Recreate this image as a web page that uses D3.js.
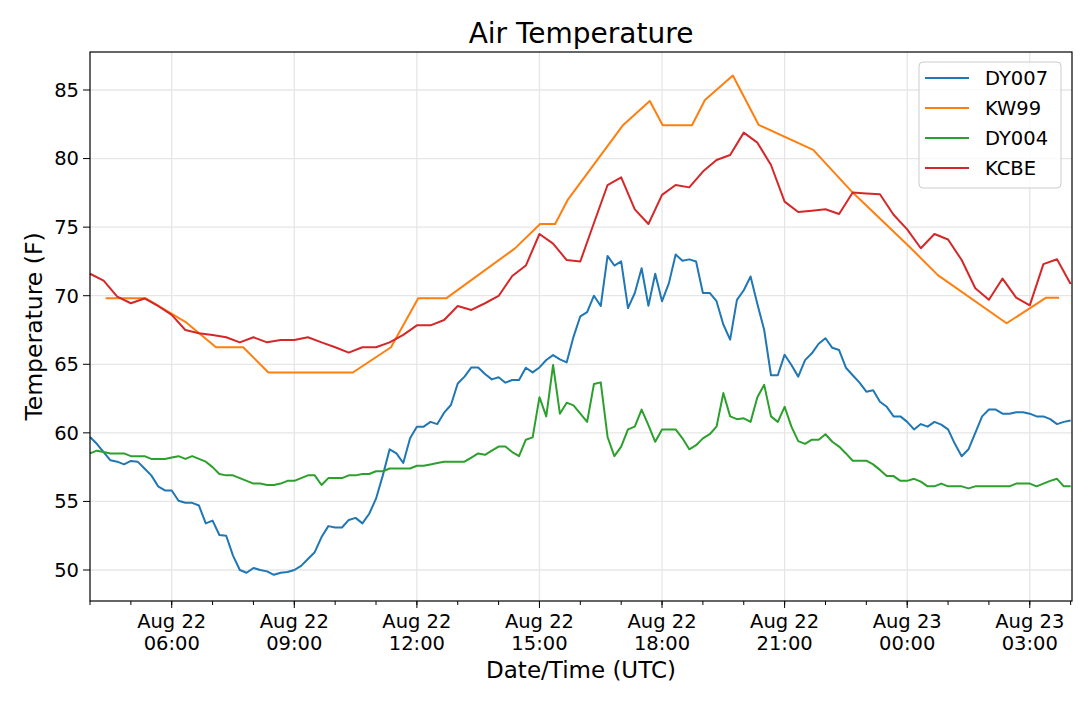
<!DOCTYPE html>
<html>
<head>
<meta charset="utf-8">
<script src="https://cdn.jsdelivr.net/npm/d3@7"></script>
<style>
  body { margin: 0; background: #fff; }
  svg { font-family: "DejaVu Sans", sans-serif; }
</style>
</head>
<body>
<div id="chart"></div>
<script>
// data: DY007 and DY004 every 10 min, KCBE every 20 min, KW99 at its own report times
const startTime = "2019-08-22T04:00:00Z";
const endTime = "2019-08-23T04:02:00Z";

const dy007 = [
  59.7,59.2,58.6,58.0,57.9,57.7,57.95,57.9,57.4,56.9,
  56.1,55.8,55.8,55.05,54.9,54.9,54.7,53.4,53.6,52.55,
  52.5,51.05,50.0,49.8,50.15,50.0,49.9,49.65,49.8,49.85,
  50.0,50.3,50.8,51.3,52.4,53.2,53.1,53.1,53.65,53.8,
  53.4,54.1,55.2,56.9,58.8,58.5,57.8,59.6,
  60.45,60.45,60.8,60.64,61.47,62.03,63.6,64.1,64.77,64.77,
  64.29,63.9,64.05,63.66,63.85,63.85,64.75,64.41,64.77,65.31,
  65.67,65.36,65.14,67.0,68.5,68.8,70.0,69.25,72.9,72.2,
  72.5,69.1,70.2,72.0,69.27,71.6,69.6,70.9,73.0,72.55,
  72.65,72.5,70.2,70.2,69.6,67.9,66.8,
  69.7,70.4,71.4,69.4,67.5,64.2,64.2,65.7,64.95,64.1,
  65.3,65.8,66.5,66.9,66.2,66.04,64.75,64.2,63.66,63.0,
  63.1,62.27,61.9,61.2,61.2,60.8,60.25,60.64,60.45,60.8,
  60.6,60.25,59.2,58.3,58.8,60.0,61.2,61.7,61.7,61.4,
  61.4,61.5,61.5,61.4,61.2,61.2,61.0,60.64,60.8,60.9
];

const dy004 = [
  58.5,58.7,58.6,58.5,58.5,58.5,58.3,58.3,58.3,58.1,
  58.1,58.1,58.2,58.3,58.1,58.3,58.1,57.9,57.5,57.0,
  56.9,56.9,56.7,56.5,56.3,56.3,56.2,56.2,56.3,56.5,
  56.5,56.7,56.9,56.9,56.2,56.7,56.7,56.7,56.9,56.9,
  57.0,57.0,57.2,57.2,57.4,57.4,57.4,57.4,
  57.6,57.6,57.7,57.8,57.9,57.9,57.9,57.9,58.2,58.5,
  58.4,58.7,59.0,59.0,58.6,58.3,
  59.5,59.67,62.6,61.2,64.95,61.4,62.2,62.0,61.4,60.8,
  63.56,63.68,59.7,58.3,59.0,60.25,60.45,61.7,60.57,59.35,
  60.25,60.25,60.25,59.6,58.8,59.1,59.6,59.9,60.45,62.9,
  61.2,61.0,
  61.06,60.8,62.6,63.5,61.2,60.8,61.9,60.45,59.4,59.2,
  59.5,59.5,59.9,59.35,59.0,58.5,57.97,57.97,57.97,57.7,
  57.3,56.85,56.85,56.5,56.5,56.65,56.44,56.1,56.1,56.3,
  56.1,56.1,56.1,55.95,56.1,56.1,56.1,56.1,56.1,56.1,
  56.3,56.3,56.3,56.1,56.3,56.5,56.65,56.1,56.1
];

const kcbe = [
  71.6,71.1,69.93,69.45,69.8,69.25,68.6,67.5,67.26,67.14,
  66.97,66.6,66.97,66.6,66.77,66.77,66.97,66.6,66.24,65.85,
  66.24,66.24,66.6,67.14,67.84,67.84,68.23,69.25,68.96,69.45,
  69.98,71.44,72.2,74.5,73.8,72.6,72.5,75.3,78.07,78.63,
  76.3,75.23,77.35,78.07,77.9,79.05,79.9,80.26,81.89,81.16,
  79.53,76.86,76.1,76.2,76.3,75.96,77.52,77.45,77.4,75.9,
  74.84,73.46,74.5,74.1,72.6,70.54,69.7,71.25,69.86,69.3,
  72.3,72.66,70.86
];

const kw99Times = [
  "2019-08-22T04:23","2019-08-22T05:22","2019-08-22T06:20","2019-08-22T07:05",
  "2019-08-22T07:45","2019-08-22T08:22","2019-08-22T10:26","2019-08-22T11:22",
  "2019-08-22T12:02","2019-08-22T12:43","2019-08-22T14:24","2019-08-22T15:01",
  "2019-08-22T15:23","2019-08-22T15:42","2019-08-22T17:03","2019-08-22T17:42",
  "2019-08-22T18:01","2019-08-22T18:44","2019-08-22T19:03","2019-08-22T19:44",
  "2019-08-22T20:22","2019-08-22T21:42","2019-08-22T22:40","2019-08-23T00:04",
  "2019-08-23T00:45","2019-08-23T02:26","2019-08-23T03:24","2019-08-23T03:43"
];
const kw99 = [
  69.81,69.81,68.1,66.24,66.24,64.4,64.4,66.24,69.81,69.81,
  73.45,75.23,75.23,77.03,82.45,84.2,82.43,82.43,84.27,86.05,
  82.45,80.63,77.52,73.53,71.5,67.99,69.86,69.86
];

const seriesNames = ["DY007", "KW99", "DY004", "KCBE"];
const seriesColors = ["#1f77b4", "#ff7f0e", "#2ca02c", "#d62728"];
const yTicks = [50, 55, 60, 65, 70, 75, 80, 85];

const width = 1080, height = 703;
const margin = { top: 52, right: 8, bottom: 102, left: 90 };

const t0 = new Date(startTime);
const every = (vals, mins) => vals.map((v, i) => ({ t: new Date(t0.getTime() + i * mins * 60000), v }));
const series = [
  every(dy007, 10),
  kw99.map((v, i) => ({ t: new Date(kw99Times[i] + ":00Z"), v })),
  every(dy004, 10),
  every(kcbe, 20)
];

const svg = d3.select("#chart").append("svg")
  .attr("width", width).attr("height", height);

const x = d3.scaleUtc()
  .domain([t0, new Date(endTime)])
  .range([margin.left, width - margin.right]);
const y = d3.scaleLinear()
  .domain([47.74, 87.77])
  .range([height - margin.bottom, margin.top]);

const majorTicks = d3.utcHour.every(3).range(new Date("2019-08-22T06:00:00Z"), new Date(endTime));
const minorTicks = d3.utcHour.every(1).range(t0, new Date(endTime));

// grid
svg.append("g").selectAll("line").data(majorTicks).join("line")
  .attr("x1", d => x(d)).attr("x2", d => x(d))
  .attr("y1", margin.top).attr("y2", height - margin.bottom)
  .attr("stroke", "#e6e6e6").attr("stroke-width", 1.3);
svg.append("g").selectAll("line").data(yTicks).join("line")
  .attr("x1", margin.left).attr("x2", width - margin.right)
  .attr("y1", d => y(d)).attr("y2", d => y(d))
  .attr("stroke", "#e6e6e6").attr("stroke-width", 1.3);

// lines
const line = d3.line().x(d => x(d.t)).y(d => y(d.v));
svg.append("g").selectAll("path").data(series).join("path")
  .attr("d", line)
  .attr("fill", "none")
  .attr("stroke", (d, i) => seriesColors[i])
  .attr("stroke-width", 2)
  .attr("stroke-linejoin", "round");

// frame
svg.append("rect")
  .attr("x", margin.left).attr("y", margin.top)
  .attr("width", width - margin.left - margin.right)
  .attr("height", height - margin.top - margin.bottom)
  .attr("fill", "none").attr("stroke", "#000").attr("stroke-width", 1.2);

// x axis
const xAxis = svg.append("g").attr("transform", `translate(0,${height - margin.bottom})`);
xAxis.selectAll("line.minor").data(minorTicks).join("line")
  .attr("class", "minor")
  .attr("x1", d => x(d)).attr("x2", d => x(d)).attr("y1", 0).attr("y2", 4)
  .attr("stroke", "#000");
const xt = xAxis.selectAll("g.tick").data(majorTicks).join("g")
  .attr("class", "tick").attr("transform", d => `translate(${x(d)},0)`);
xt.append("line").attr("y2", 7).attr("stroke", "#000");
xt.append("text").attr("y", 27).attr("text-anchor", "middle")
  .attr("font-size", 19.5).text(d => d3.utcFormat("%b %d")(d));
xt.append("text").attr("y", 49).attr("text-anchor", "middle")
  .attr("font-size", 19.5).text(d => d3.utcFormat("%H:%M")(d));

// y axis
const yt = svg.append("g").selectAll("g").data(yTicks).join("g")
  .attr("transform", d => `translate(${margin.left},${y(d)})`);
yt.append("line").attr("x2", -7).attr("stroke", "#000");
yt.append("text").attr("x", -11).attr("dy", "0.35em").attr("text-anchor", "end")
  .attr("font-size", 19.5).text(d => d);

// titles
svg.append("text").attr("x", (margin.left + width - margin.right) / 2).attr("y", 43)
  .attr("text-anchor", "middle").attr("font-size", 28).text("Air Temperature");
svg.append("text").attr("x", (margin.left + width - margin.right) / 2).attr("y", 678)
  .attr("text-anchor", "middle").attr("font-size", 23).text("Date/Time (UTC)");
svg.append("text").attr("transform", `translate(42,${(margin.top + height - margin.bottom) / 2}) rotate(-90)`)
  .attr("text-anchor", "middle").attr("font-size", 23.5).text("Temperature (F)");

// legend
const lg = svg.append("g").attr("transform", "translate(919,62)");
lg.append("rect").attr("width", 142).attr("height", 126).attr("rx", 4)
  .attr("fill", "#fff").attr("fill-opacity", 0.8).attr("stroke", "#ccc");
const li = lg.selectAll("g").data(seriesNames).join("g")
  .attr("transform", (d, i) => `translate(0,${16 + i * 30})`);
li.append("line").attr("x1", 6).attr("x2", 50)
  .attr("stroke", (d, i) => seriesColors[i]).attr("stroke-width", 2);
li.append("text").attr("x", 66).attr("dy", "0.35em").attr("font-size", 19.5).text(d => d);
</script>
</body>
</html>
